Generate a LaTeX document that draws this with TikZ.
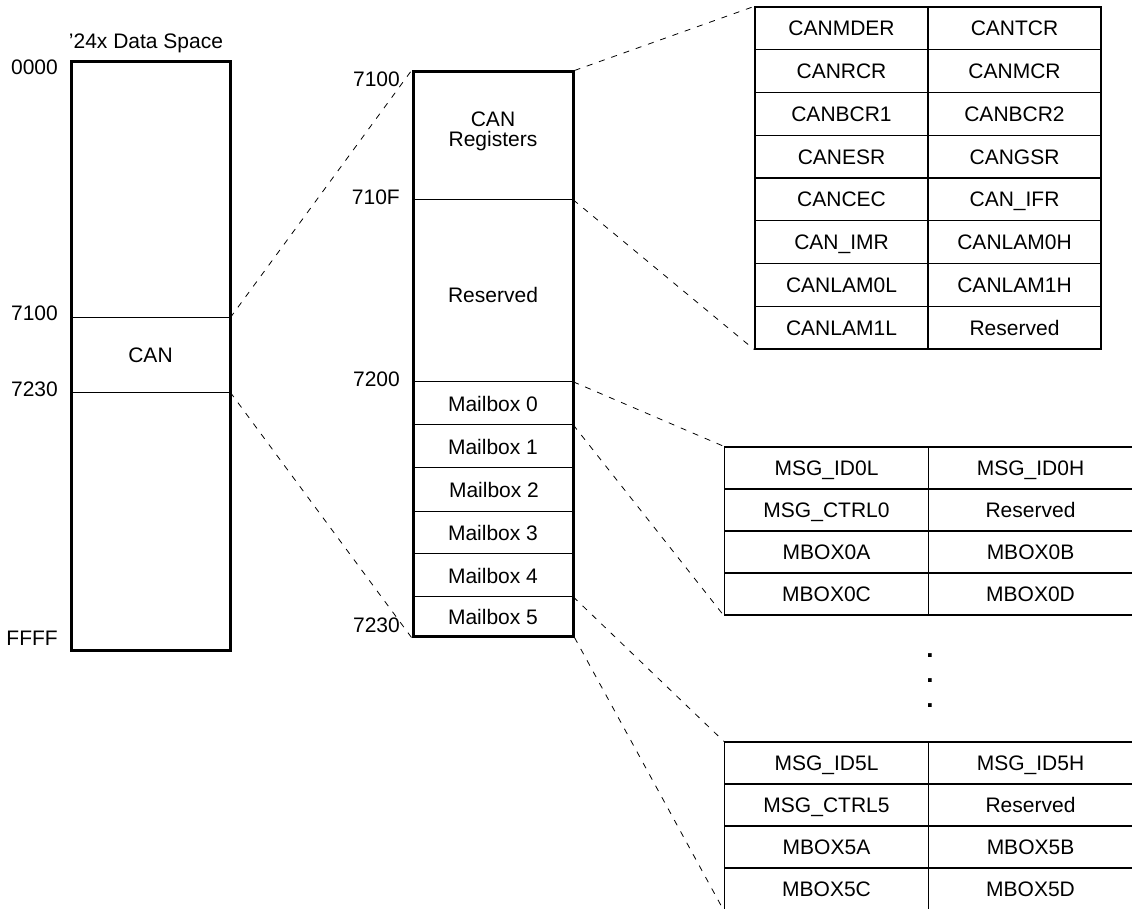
\documentclass[tikz,border=0pt]{standalone}
\usepackage{fontspec}
\setmainfont{Liberation Sans}
\begin{document}
\begin{tikzpicture}[x=1pt,y=-1pt,
  font=\fontsize{21}{24}\selectfont,
  lbl/.style={inner sep=0pt, text height=15pt, text depth=0pt},
  addr/.style={lbl, anchor=east},
  membox/.style={draw, line width=3pt, inner sep=0pt},
  region/.style={inner sep=0pt, text height=15pt, text depth=0pt},
  divline/.style={line width=1.3pt},
  cellA/.style={draw, line width=1.3pt, inner sep=0pt, minimum width=173pt, minimum height=42.75pt, text height=15pt, text depth=0pt},
  cellB/.style={draw, line width=1.3pt, inner sep=0pt, minimum width=204pt, minimum height=42pt, text height=15pt, text depth=0pt},
  dotmark/.style={inner sep=0pt, font=\bfseries\fontsize{26}{26}\selectfont},
  conn/.style={line width=0.8pt, dash pattern=on 6pt off 7pt}]
\useasboundingbox (0,0) rectangle (1132,909);
\clip (0,0) rectangle (1132,909);

% ---------- left: data space ----------
\node[lbl] (title) at (146,41) {'24x Data Space};
\node[membox, minimum width=159pt, minimum height=588pt] (ds) at (150.5,356) {};
\node[region, minimum width=159pt, minimum height=74pt] (can) at (150.5,355) {CAN};
\draw[divline] (can.north west) -- (can.north east);
\draw[divline] (can.south west) -- (can.south east);
\node[addr] (a0000) at (58,67) {0000};
\node[addr] (a7100) at (58,313) {7100};
\node[addr] (a7230) at (58,389) {7230};
\node[addr] (affff) at (58,638) {FFFF};

% ---------- middle: CAN region ----------
\node[membox, minimum width=160pt, minimum height=564pt] (mid) at (493,354) {};
\node[region, minimum width=160pt, minimum height=128pt] (canreg) at (493,136) {};
\node[inner sep=0pt, align=center] (canregtxt) at (493,131) {CAN\\[-4pt]Registers};
\node[region, minimum width=160pt, minimum height=182pt] (resv) at (493,291) {};
\node[lbl] (resvtxt) at (493,295) {Reserved};
\draw[divline] (resv.north west) -- (resv.north east);
\node[region, minimum width=160pt, minimum height=43pt] (mb0) at (493,403.5) {Mailbox 0};
\node[region, minimum width=160pt, minimum height=43pt] (mb1) at (493,446.5) {Mailbox 1};
\node[region, minimum width=160pt, minimum height=44pt] (mb2) at (494,490) {Mailbox 2};
\node[region, minimum width=160pt, minimum height=42pt] (mb3) at (493,533) {Mailbox 3};
\node[region, minimum width=160pt, minimum height=43pt] (mb4) at (493,575.5) {Mailbox 4};
\node[region, minimum width=160pt, minimum height=39pt] (mb5) at (493,616.5) {Mailbox 5};
\foreach \m in {mb0,mb1,mb2,mb3,mb4,mb5}
  \draw[divline] ([xshift=1pt]\m.north west) -- ([xshift=-1pt]\m.north east);
\node[addr] (b7100) at (400,79) {7100};
\node[addr] (b710f) at (400,197) {710F};
\node[addr] (b7200) at (400,379) {7200};
\node[addr] (b7230) at (400,625) {7230};

% ---------- top-right register table ----------
\foreach \i/\l/\r in {0/CANMDER/CANTCR,1/CANRCR/CANMCR,2/CANBCR1/CANBCR2,3/CANESR/CANGSR,
  4/CANCEC/CAN\_IFR,5/CAN\_IMR/CANLAM0H,6/CANLAM0L/CANLAM1H,7/CANLAM1L/Reserved}{
  \node[cellA] (r\i l) at (841.5,{7+42.75*\i+21.375}) {\l};
  \node[cellA] (r\i r) at (1014.5,{7+42.75*\i+21.375}) {\r};
}

% ---------- mailbox 0 table ----------
\foreach \i/\l/\r in {0/MSG\_ID0L/MSG\_ID0H,1/MSG\_CTRL0/Reserved,2/MBOX0A/MBOX0B,3/MBOX0C/MBOX0D}{
  \node[cellB] (p\i l) at (826.5,{447+42*\i+21}) {\l};
  \node[cellB] (p\i r) at (1030.5,{447+42*\i+21}) {\r};
}

% ---------- dots ----------
\node[dotmark] (dot1) at (930,656) {.};
\node[dotmark] (dot2) at (930,681) {.};
\node[dotmark] (dot3) at (930,706) {.};

% ---------- mailbox 5 table ----------
\foreach \i/\l/\r in {0/MSG\_ID5L/MSG\_ID5H,1/MSG\_CTRL5/Reserved,2/MBOX5A/MBOX5B,3/MBOX5C/MBOX5D}{
  \node[cellB] (q\i l) at (826.5,{742+42*\i+21}) {\l};
  \node[cellB] (q\i r) at (1030.5,{742+42*\i+21}) {\r};
}

% ---------- dashed connectors ----------
\draw[conn] (can.north east) -- (mid.north west);
\draw[conn] (can.south east) -- (mid.south west);
\draw[conn] (mid.north east) -- (r0l.north west);
\draw[conn] (resv.north east) -- (r7l.south west);
\draw[conn] (mb0.north east) -- (p0l.north west);
\draw[conn] (mb1.north east) -- (p3l.south west);
\draw[conn] (mb5.north east) -- (q0l.north west);
\draw[conn] (mid.south east) -- (q3l.south west);
\end{tikzpicture}
\end{document}
